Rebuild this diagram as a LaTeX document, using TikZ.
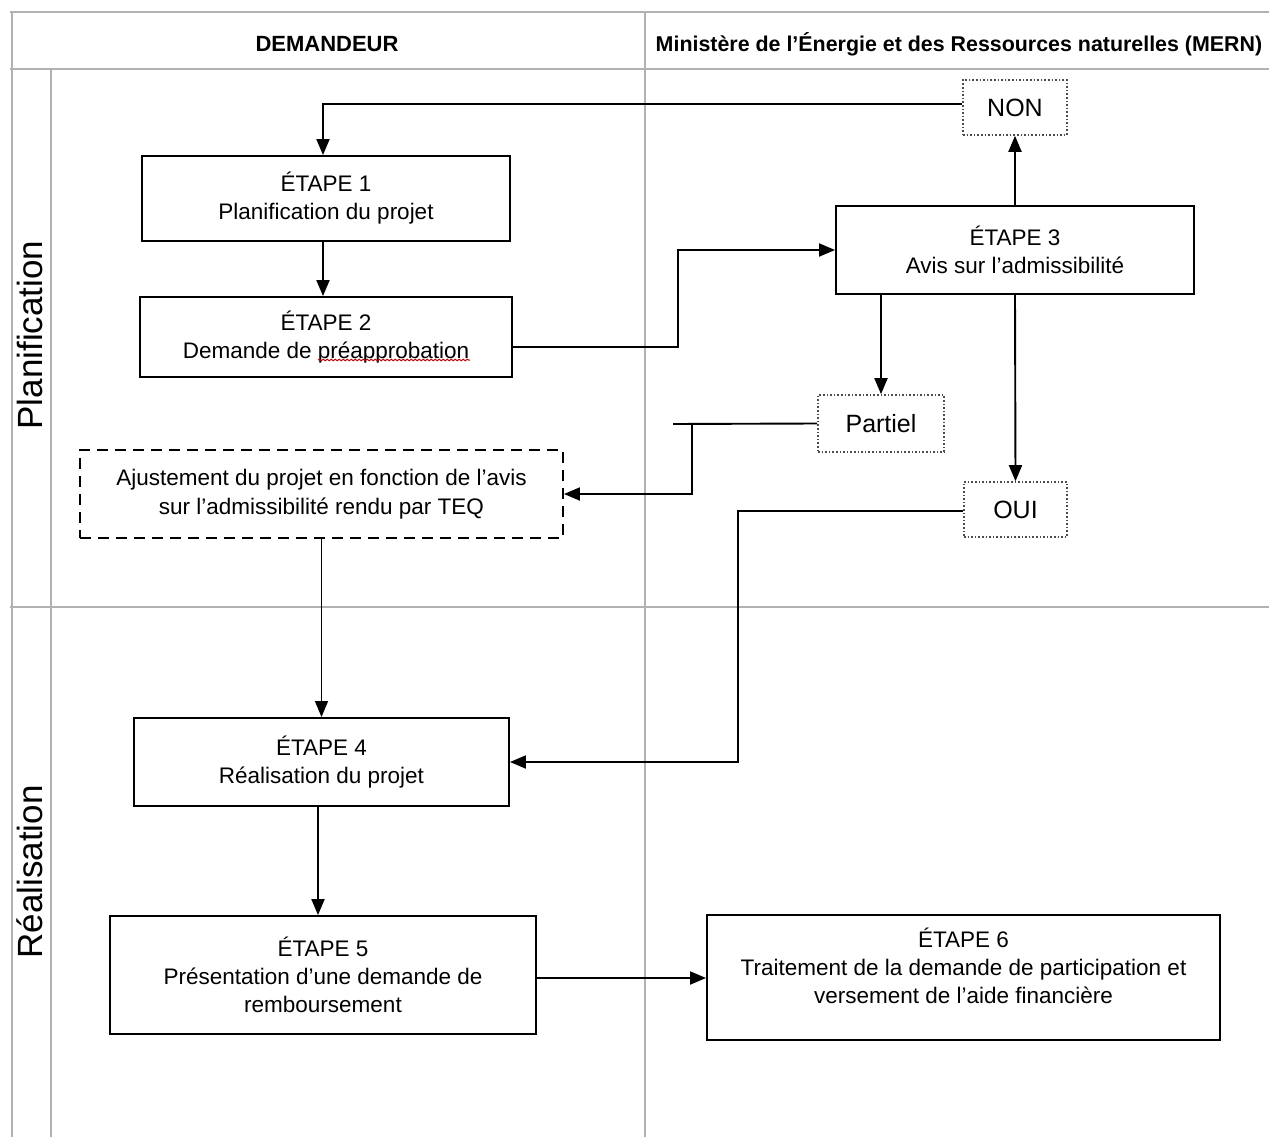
\documentclass[tikz,border=0pt]{standalone}
\usepackage{fontspec}
\setmainfont{Liberation Sans}
\usetikzlibrary{arrows.meta,decorations.pathmorphing}
\begin{document}
\begin{tikzpicture}[x=1pt,y=-1pt,
  grid/.style={draw=black!30,line width=2.4pt},
  stepbox/.style={draw=black,line width=1.9pt,inner sep=0pt,align=center,
     font=\fontsize{22.5}{28}\selectfont},
  dotbox/.style={draw=black!70,dotted,line width=1.6pt,inner sep=0pt,align=center,
     font=\fontsize{25}{28}\selectfont},
  dashbox/.style={draw=black,dashed,dash pattern=on 11pt off 7pt,line width=1.9pt,inner sep=0pt,align=center,
     font=\fontsize{22.5}{29}\selectfont},
  conn/.style={line width=1.9pt,draw=black},
  arr/.style={conn,-{Triangle[length=16pt,width=13pt]}},
  lane/.style={rotate=90,font=\fontsize{35}{38}\selectfont},
  head/.style={font=\bfseries\fontsize{21.4}{24}\selectfont}
]
\useasboundingbox (0,0) rectangle (1269,1137);
\fill[white] (0,0) rectangle (1269,1137);
% grid
\draw[grid] (10,12) -- (1269,12);
\draw[grid] (10,69) -- (1269,69);
\draw[grid] (12,12) -- (12,1137);
\draw[grid] (51,69) -- (51,1137);
\draw[grid] (645,12) -- (645,1137);
\draw[grid] (10,607) -- (1269,607);
% headers
\node[head,font=\bfseries\fontsize{22}{24}\selectfont] (hdem) at (327,44) {DEMANDEUR};
\node[head] (hmern) at (959,44) {Ministère de l’Énergie et des Ressources naturelles (MERN)};
% lanes
\node[lane] (lplan) at (30,335) {Planification};
\node[lane] (lreal) at (30,872) {Réalisation};
% boxes
\node[stepbox,minimum width=368,minimum height=85] (e1) at (326,198.5) {ÉTAPE 1\\Planification du projet};
\node[stepbox,minimum width=372,minimum height=80] (e2) at (326,337) {ÉTAPE 2\\Demande de préapprobation};
\node[stepbox,minimum width=358,minimum height=88] (e3) at (1015,250) {ÉTAPE 3\\Avis sur l’admissibilité};
\node[dotbox,minimum width=104,minimum height=55] (non) at (1015,107.5) {NON};
\node[dotbox,minimum width=126,minimum height=57] (par) at (881,423.5) {Partiel};
\node[dotbox,minimum width=103,minimum height=55] (oui) at (1015.5,509.5) {OUI};
\node[dashbox,minimum width=483,minimum height=88] (aj) at (321.5,494) {Ajustement du projet en fonction de l’avis\\sur l’admissibilité rendu par TEQ};
\node[stepbox,minimum width=375,minimum height=88] (e4) at (321.5,762) {ÉTAPE 4\\Réalisation du projet};
\node[stepbox,minimum width=426,minimum height=118] (e5) at (323,975) {ÉTAPE 5\\Présentation d’une demande de\\remboursement};
\node[stepbox,minimum width=513,minimum height=125] (e6) at (963.5,977.5) {ÉTAPE 6\\Traitement de la demande de participation et\\versement de l’aide financière\\[-12pt]\strut};
% red spell-check underline
\draw[red!75!black,line width=1pt,decorate,decoration={snake,amplitude=0.8pt,segment length=4pt}] (318,360) -- (470,360);
% connectors
\coordinate (nonturn) at (323,104);
\draw[arr] (non.west |- nonturn) -- (nonturn) -- (e1.north -| nonturn);
\draw[arr] (e3.north -| non) -- (non.south);
\draw[arr] (e1.south -| 323,0) -- (e2.north -| 323,0);
\coordinate (e2turn) at (678,347);
\draw[arr] (e2.east |- e2turn) -- (e2turn) |- (e3.west);
\draw[arr] (e3.south -| par) -- (par.north);
\draw[arr] (e3.south -| non) -- (oui.north);
\coordinate (parstub) at (673,424);
\coordinate (parturn) at (692,424);
\draw[conn] (par.west) -- (parstub);
\draw[arr] (parturn) |- (aj.east);
\coordinate (ouiturn) at (738,511);
\draw[arr] (oui.west |- ouiturn) -- (ouiturn) |- (e4.east);
\draw[arr,line width=1.5pt] (aj.south) -- (e4.north);
\draw[arr] (e4.south -| 318,0) -- (e5.north -| 318,0);
\draw[arr] (e5.east |- 0,978) -- (e6.west |- 0,978);
\end{tikzpicture}
\end{document}
